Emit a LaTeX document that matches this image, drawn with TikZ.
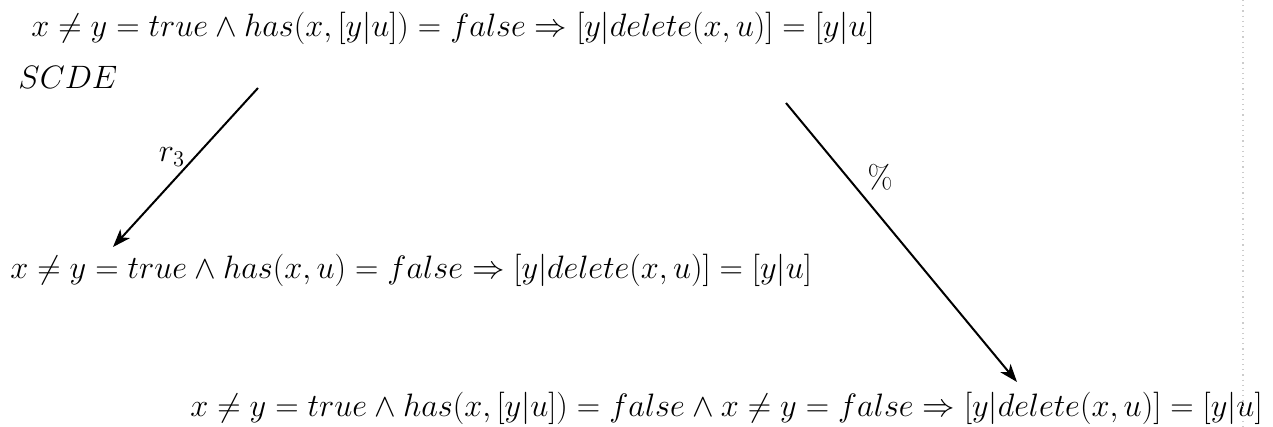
\documentclass[tikz,border=0pt]{standalone}
\usepackage{amsmath}
\usetikzlibrary{arrows.meta}
\tikzset{
  formula/.style={inner sep=0pt, anchor=west, font=\fontsize{17.28}{20}\selectfont, scale=0.9375, transform shape},
  lbl/.style={inner sep=0pt, font=\fontsize{17.28}{20}\selectfont, scale=0.9375, transform shape},
  arr/.style={line width=1pt, -{Stealth[length=9pt, width=6.5pt, inset=2.5pt]}},
}
\begin{document}
\begin{tikzpicture}[x=0.5pt, y=-0.5pt]
\useasboundingbox (0,0) rectangle (1273,427);
\node[formula] (top) at (31,28) {$x\neq y = true \wedge has(x,[y|u]) = false \Rightarrow [y|delete(x,u)] = [y|u]$};
\node[formula] (scde) at (18,77) {$SCDE$};
\node[formula] (mid) at (10,270) {$x\neq y = true \wedge has(x,u) = false \Rightarrow [y|delete(x,u)] = [y|u]$};
\node[formula] (bot) at (190,408) {$x\neq y = true \wedge has(x,[y|u]) = false \wedge x\neq y = false \Rightarrow [y|delete(x,u)] = [y|u]$};
\coordinate (a1s) at (258,88);
\coordinate (a1e) at (113,247);
\coordinate (a2s) at (786,103);
\coordinate (a2e) at (1017,382);
\draw[arr] (a1s) -- (a1e);
\draw[arr] (a2s) -- (a2e);
\node[lbl] (r3) at (172,157) {$r_3$};
\node[lbl] (pct) at (880,177) {\%};
\draw[gray!40, dotted, line width=0.6pt] (1243,0) -- (1243,427);
\end{tikzpicture}
\end{document}
